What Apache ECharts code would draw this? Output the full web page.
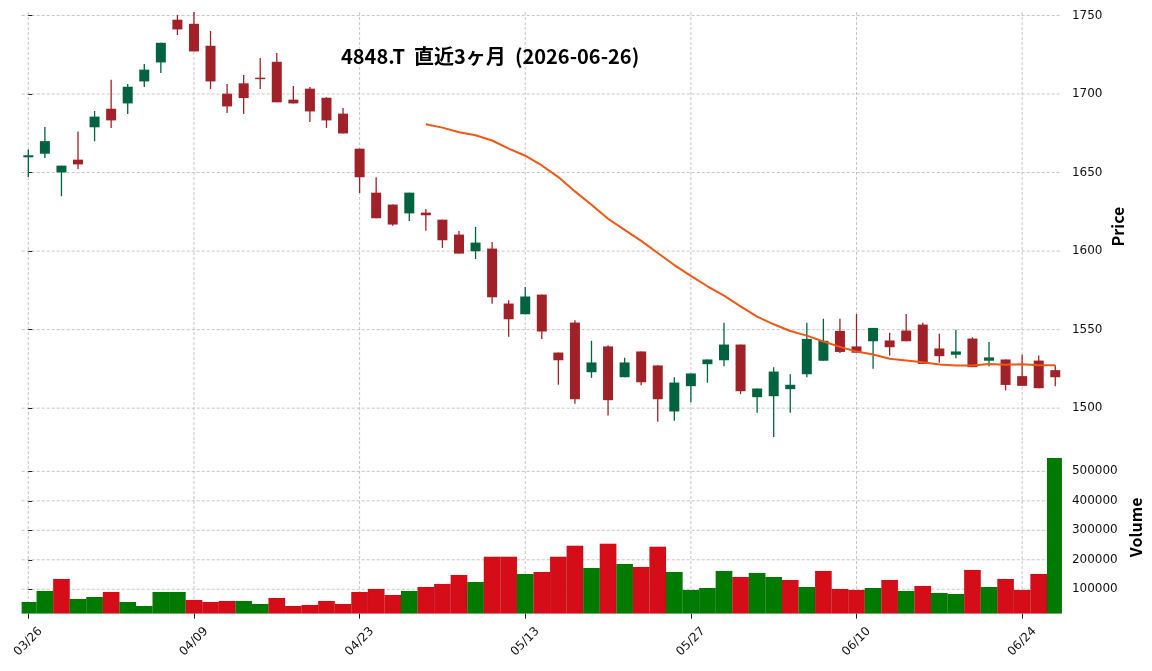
<!DOCTYPE html>
<html>
<head>
<meta charset="utf-8">
<script src="https://cdn.jsdelivr.net/npm/echarts@6/dist/echarts.min.js"></script>
<style>
html,body{margin:0;padding:0;background:#fff;}
#chart{width:1152px;height:671px;}
</style>
</head>
<body>
<div id="chart"></div>
<script>
// ---------------- data ----------------
const dates = ['03/26','03/27','03/30','03/31','04/01','04/02','04/03','04/06','04/07','04/08',
  '04/09','04/10','04/13','04/14','04/15','04/16','04/17','04/20','04/21','04/22',
  '04/23','04/24','04/27','04/28','04/30','05/01','05/07','05/08','05/11','05/12',
  '05/13','05/14','05/15','05/18','05/19','05/20','05/21','05/22','05/25','05/26',
  '05/27','05/28','05/29','06/01','06/02','06/03','06/04','06/05','06/08','06/09',
  '06/10','06/11','06/12','06/15','06/16','06/17','06/18','06/19','06/22','06/23',
  '06/24','06/25','06/26'];
const opens = [1659.7,1662.0,1650.1,1658.2,1678.8,1690.6,1694.0,1708.0,1720.1,1747.3,
  1744.7,1730.7,1700.2,1706.8,1710.4,1720.5,1696.4,1703.4,1697.6,1687.5,
  1665.2,1637.2,1629.6,1624.0,1624.5,1620.0,1610.5,1599.9,1601.6,1566.6,
  1559.8,1572.3,1535.4,1554.5,1522.9,1539.3,1519.7,1536.1,1527.2,1497.9,
  1514.0,1528.0,1530.5,1540.5,1507.0,1507.6,1512.1,1521.6,1530.2,1549.2,
  1539.3,1542.6,1543.1,1549.4,1553.2,1538.0,1534.0,1544.3,1530.2,1531.0,
  1520.4,1530.3,1524.2];
const closes = [1661.0,1670.0,1654.4,1655.2,1685.6,1683.2,1704.6,1715.5,1732.6,1741.1,
  1727.1,1708.0,1692.1,1697.4,1709.9,1694.7,1694.0,1688.9,1683.2,1674.9,
  1647.0,1620.9,1616.9,1637.2,1622.8,1606.9,1598.4,1605.4,1570.6,1556.6,
  1571.1,1548.8,1530.5,1505.7,1529.1,1505.1,1529.1,1516.5,1505.7,1516.3,
  1522.1,1531.0,1540.5,1510.8,1512.5,1523.3,1514.9,1544.1,1542.9,1535.8,
  1535.3,1551.1,1538.8,1542.6,1528.2,1533.1,1536.1,1526.1,1532.3,1514.8,
  1514.2,1512.7,1519.7];
const highs = [1664.6,1679.0,1654.4,1676.2,1689.2,1709.1,1706.4,1719.1,1732.6,1750.4,
  1753.0,1740.1,1706.4,1712.1,1722.9,1726.1,1705.1,1704.5,1698.0,1691.1,
  1665.2,1647.0,1629.6,1637.2,1626.8,1620.0,1612.8,1615.4,1605.8,1568.7,
  1577.2,1572.3,1535.4,1556.0,1542.9,1540.1,1532.1,1536.1,1527.2,1519.7,
  1522.1,1531.0,1554.3,1540.5,1512.5,1526.1,1521.6,1554.3,1556.9,1556.9,
  1560.0,1551.1,1548.0,1560.0,1554.3,1547.3,1549.9,1545.2,1542.2,1531.0,
  1534.0,1533.5,1527.4];
const lows = [1647.2,1659.3,1634.9,1652.3,1669.9,1678.4,1687.3,1704.5,1713.4,1737.5,
  1727.1,1703.2,1687.9,1687.3,1703.2,1694.7,1694.0,1682.2,1678.4,1674.9,
  1637.0,1620.9,1616.2,1619.2,1612.9,1602.0,1598.4,1595.0,1566.4,1545.4,
  1559.8,1544.1,1514.9,1502.8,1519.3,1495.4,1519.7,1514.6,1491.3,1492.0,
  1503.8,1516.2,1526.7,1508.9,1497.1,1481.6,1497.1,1519.7,1530.2,1535.2,
  1535.3,1525.1,1533.5,1542.6,1528.2,1528.9,1531.8,1526.1,1526.7,1511.3,
  1514.2,1512.7,1514.0];
const volumes = [56800,94200,135000,67000,73800,90800,56800,43200,90800,90800,
  63600,56800,60200,60200,50000,70400,43200,46600,60200,50000,
  90800,101000,80600,94200,107800,118000,148600,124800,209900,209900,
  152000,158800,209900,247300,172400,254100,186000,175800,243900,158800,
  97600,104400,162200,141800,155400,141800,131600,107800,162200,101000,
  97600,104400,131600,94200,111300,87400,84000,165600,107800,135000,
  97600,152000,545600];
// 25-day moving average line as drawn (starts at the 25th session)
const maStart = 24;
const ma25 = [1680.7,1678.6,1675.7,1673.7,1670.4,1665.2,1660.7,1654.5,1647.1,1638.0,
  1629.5,1620.6,1613.5,1606.5,1598.8,1591.1,1584.2,1577.6,1571.7,1564.8,
  1558.3,1553.4,1549.1,1546.2,1542.4,1539.0,1536.1,1534.2,1531.5,1530.4,
  1529.3,1527.8,1527.2,1527.1,1528.1,1527.6,1527.9,1527.3,1527.4];
const dateTickIdx = [0,10,20,30,40,50,60];
const priceTicks = [1500,1550,1600,1650,1700,1750];
const volumeTicks = [100000,200000,300000,400000,500000];
const titleText = '4848.T  直近3ヶ月  (2026-06-26)';

// ---------------- styles ----------------
const UP = '#006340', DOWN = '#a02128';
const VUP = '#007a00', VDOWN = '#d50d18';
const MA_COLOR = '#ef5714';
const GRID_COLOR = '#b8b8b8';
const TXT = '#111';

const candleRows = opens.map((o, i) => [i, o, closes[i], lows[i], highs[i]]);
const volRows = volumes.map((v, i) => [i, v, (i === 0 || closes[i] >= closes[i - 1]) ? 1 : -1]);
const maRows = ma25.map((v, k) => [maStart + k, v]);

const PL = 21.7, PW = 1040.2;
const grids = [
  {left: PL, width: PW, top: 12, height: 429, containLabel: false, outerBoundsMode: 'none'},
  {left: PL, width: PW, top: 441, height: 172.7, containLabel: false, outerBoundsMode: 'none'}
];

function hGridItem(params, api) {
  const cs = params.coordSys;
  const y = api.coord([0, api.value(1)])[1];
  return {type: 'line', silent: true,
    shape: {x1: cs.x, y1: y, x2: cs.x + cs.width, y2: y},
    style: {stroke: GRID_COLOR, lineWidth: 0.8, lineDash: [3, 2]}};
}
function vGridItem(params, api) {
  const cs = params.coordSys;
  const x = api.coord([api.value(0), api.value(1)])[0];
  return {type: 'line', silent: true,
    shape: {x1: x, y1: cs.y, x2: x, y2: cs.y + cs.height},
    style: {stroke: GRID_COLOR, lineWidth: 0.8, lineDash: [3, 2]}};
}

const chart = echarts.init(document.getElementById('chart'), null, {renderer: 'canvas'});
const option = {
  animation: false,
  backgroundColor: '#fff',
  title: {
    text: titleText, left: 341, top: 44, padding: 0,
    textStyle: {fontFamily: 'Noto Sans CJK JP', fontWeight: 'bold', fontSize: 20, color: '#000', lineHeight: 24}
  },
  grid: grids,
  xAxis: [
    {type: 'value', gridIndex: 0, min: -0.4, max: 62.4,
      axisLine: {show: false}, axisTick: {show: false}, axisLabel: {show: false}, splitLine: {show: false}},
    {type: 'value', gridIndex: 1, min: -0.4, max: 62.4,
      axisLine: {show: false}, splitLine: {show: false},
      axisTick: {show: true, customValues: dateTickIdx, length: 5, lineStyle: {color: '#222', width: 1}},
      axisLabel: {show: true, customValues: dateTickIdx, rotate: 45, align: 'center', verticalAlign: 'middle',
        margin: 28, fontFamily: 'DejaVu Sans', fontSize: 12, color: TXT,
        formatter: v => dates[Math.round(v)]}}
  ],
  yAxis: [
    {type: 'value', gridIndex: 0, position: 'right', min: 1479.1, max: 1752.2,
      axisLine: {show: false}, splitLine: {show: false},
      axisTick: {show: true, customValues: priceTicks, length: 4, inside: false, lineStyle: {color: '#222'}},
      axisLabel: {show: true, customValues: priceTicks, margin: 10, fontFamily: 'DejaVu Sans', fontSize: 12, color: TXT,
        formatter: v => String(Math.round(v))},
      name: 'Price', nameLocation: 'middle', nameRotate: 90, nameGap: 48, nameMoveOverlap: false,
      nameTextStyle: {fontFamily: 'Noto Sans CJK JP', fontWeight: 'bold', fontSize: 16, color: '#000'}},
    {type: 'value', gridIndex: 1, position: 'right', min: 17000, max: 603000,
      axisLine: {show: false}, splitLine: {show: false},
      axisTick: {show: true, customValues: volumeTicks, length: 4, lineStyle: {color: '#222'}},
      axisLabel: {show: true, customValues: volumeTicks, margin: 10, fontFamily: 'DejaVu Sans', fontSize: 12, color: TXT,
        formatter: v => String(Math.round(v))},
      name: 'Volume', nameLocation: 'middle', nameRotate: 90, nameGap: 66, nameMoveOverlap: false,
      nameTextStyle: {fontFamily: 'Noto Sans CJK JP', fontWeight: 'bold', fontSize: 16, color: '#000'}}
  ],
  series: [
    {type: 'custom', name: 'pgridH', xAxisIndex: 0, yAxisIndex: 0, z: 0, silent: true, clip: false,
      data: priceTicks.map(v => [0, v]), renderItem: hGridItem},
    {type: 'custom', name: 'pgridV', xAxisIndex: 0, yAxisIndex: 0, z: 0, silent: true, clip: false,
      data: dateTickIdx.map(v => [v, 1600]), renderItem: vGridItem},
    {type: 'custom', name: 'vgridH', xAxisIndex: 1, yAxisIndex: 1, z: 0, silent: true, clip: false,
      data: volumeTicks.map(v => [0, v]), renderItem: hGridItem},
    {type: 'custom', name: 'vgridV', xAxisIndex: 1, yAxisIndex: 1, z: 0, silent: true, clip: false,
      data: dateTickIdx.map(v => [v, 100000]), renderItem: vGridItem},
    {type: 'custom', name: 'candles', xAxisIndex: 0, yAxisIndex: 0, z: 3, clip: true,
      data: candleRows, encode: {x: 0, y: [1, 2, 3, 4]},
      renderItem: function (params, api) {
        const i = api.value(0), o = api.value(1), c = api.value(2), l = api.value(3), h = api.value(4);
        const col = c >= o ? UP : DOWN;
        const pH = api.coord([i, h]), pL = api.coord([i, l]);
        const pO = api.coord([i, o]), pC = api.coord([i, c]);
        const bw = 10;
        const top = Math.min(pO[1], pC[1]);
        const hh = Math.max(Math.abs(pO[1] - pC[1]), 1.5);
        return {type: 'group', children: [
          {type: 'line', shape: {x1: pH[0], y1: pH[1], x2: pL[0], y2: pL[1]}, style: {stroke: col, lineWidth: 1.3}},
          {type: 'rect', shape: {x: pO[0] - bw / 2, y: top, width: bw, height: hh}, style: {fill: col}}
        ]};
      }},
    {type: 'line', name: 'MA25', xAxisIndex: 0, yAxisIndex: 0, z: 4, data: maRows,
      symbol: 'none', smooth: false, lineStyle: {color: MA_COLOR, width: 2}},
    {type: 'custom', name: 'volume', xAxisIndex: 1, yAxisIndex: 1, z: 3, clip: true,
      data: volRows, encode: {x: 0, y: 1},
      renderItem: function (params, api) {
        const cs = params.coordSys;
        const i = api.value(0), v = api.value(1), d = api.value(2);
        const p0 = api.coord([i - 0.5, v]);
        const p1 = api.coord([i + 0.5, v]);
        const base = cs.y + cs.height;
        const rect = echarts.graphic.clipRectByRect(
          {x: p0[0], y: p0[1], width: p1[0] - p0[0], height: base - p0[1]},
          {x: cs.x, y: cs.y, width: cs.width, height: cs.height});
        if (!rect) return null;
        const col = d > 0 ? VUP : VDOWN;
        return {type: 'rect', shape: rect, style: {fill: col, stroke: 'rgba(0,0,0,0.12)', lineWidth: 0.5}};
      }}
  ]
};
chart.setOption(option);
</script>
</body>
</html>
